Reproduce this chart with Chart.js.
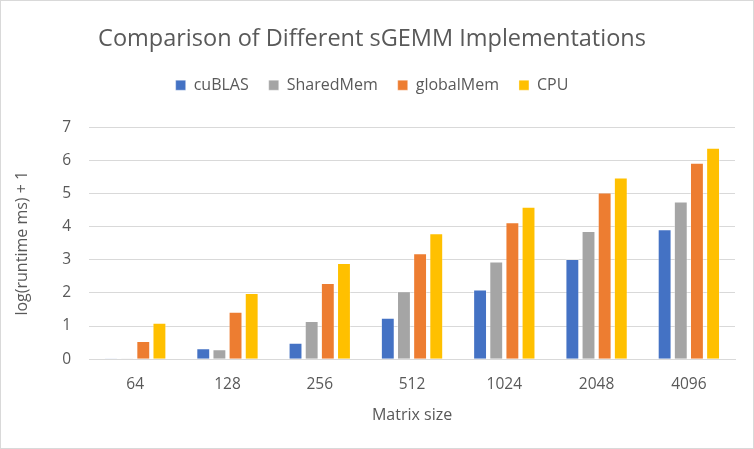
<!DOCTYPE html>
<html>
<head>
<meta charset="utf-8">
<script src="https://cdn.jsdelivr.net/npm/chart.js@4"></script>
<style>
  html, body { margin: 0; padding: 0; background: #fff; }
  #wrap { position: absolute; left: 0; top: 0; width: 752px; height: 447px; border: 1px solid #d9d9d9; }
  canvas { display: block; }
</style>
</head>
<body>
<div id="wrap"><canvas id="chart" width="752" height="447"></canvas></div>
<script>
const sizes = ['64', '128', '256', '512', '1024', '2048', '4096'];
const cublas = [0.02, 0.33, 0.5, 1.25, 2.1, 3.02, 3.92];
const sharedMem = [0.02, 0.3, 1.15, 2.05, 2.95, 3.87, 4.76];
const globalMem = [0.55, 1.43, 2.3, 3.2, 4.13, 5.03, 5.93];
const cpu = [1.1, 2.0, 2.9, 3.8, 4.6, 5.48, 6.38];

const fontFam = "'Open Sans', 'Liberation Sans', sans-serif";

function bar(label, data, color) {
    return {
        label: label, data: data, backgroundColor: color,
        borderColor: 'rgba(255,255,255,0.35)', borderWidth: 1,
        barPercentage: 0.86, categoryPercentage: 0.7
    };
}

// extra room between the legend and the plot
const legendGap = {
    id: 'legendGap',
    beforeInit(chart) {
        const fit = chart.legend.fit;
        chart.legend.fit = function () {
            fit.bind(chart.legend)();
            this.height += 24;
        };
    }
};

new Chart(document.getElementById('chart'), {
    type: 'bar',
    data: {
        labels: sizes,
        datasets: [
            bar('cuBLAS', cublas, '#4472c4'),
            bar('SharedMem', sharedMem, '#a5a5a5'),
            bar('globalMem', globalMem, '#ed7d31'),
            bar('CPU', cpu, '#ffc000')
        ]
    },
    plugins: [legendGap],
    options: {
        responsive: false,
        animation: false,
        layout: { padding: { left: 8, right: 18, top: 18, bottom: 19 } },
        plugins: {
            title: {
                display: true, text: 'Comparison of Different sGEMM Implementations',
                color: '#595959', font: { family: fontFam, size: 23.5, weight: 'normal' },
                padding: { top: 6, bottom: 4 }
            },
            legend: {
                position: 'top',
                labels: {
                    color: '#595959', font: { family: fontFam, size: 16 },
                    boxWidth: 10, boxHeight: 10, padding: 20
                }
            },
            tooltip: { enabled: false }
        },
        scales: {
            x: {
                grid: { display: false },
                border: { color: '#d9d9d9' },
                ticks: { color: '#595959', font: { family: fontFam, size: 15.5 }, padding: 8 },
                title: { display: true, text: 'Matrix size', color: '#595959', font: { family: fontFam, size: 16 }, padding: { top: 4 } }
            },
            y: {
                min: 0, max: 7,
                grid: { color: '#d9d9d9', lineWidth: 1, drawTicks: false },
                border: { display: false },
                ticks: { stepSize: 1, color: '#595959', font: { family: fontFam, size: 15.5 }, padding: 18 },
                title: { display: true, text: 'log(runtime ms) + 1', color: '#595959', font: { family: fontFam, size: 16 }, padding: { bottom: 12 } }
            }
        }
    }
});
</script>
</body>
</html>
